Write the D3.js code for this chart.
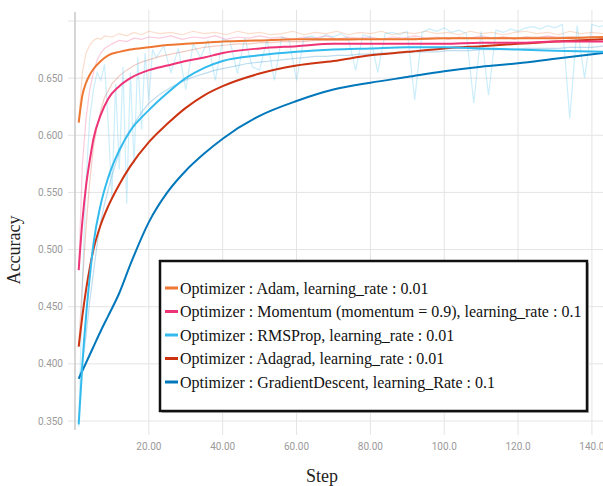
<!DOCTYPE html>
<html>
<head>
<meta charset="utf-8">
<script src="https://cdn.jsdelivr.net/npm/d3@7"></script>
<style>
  body { margin: 0; background: #fff; }
  svg { display: block; }
  .serif { font-family: "Liberation Serif", "Times New Roman", serif; }
</style>
</head>
<body>
<svg id="chart" width="603" height="486"></svg>
<script>
// ---- data ----
const runs = ["Adam", "Momentum", "RMSProp", "Adagrad", "GradientDescent"];
const legendLabels = [
  "Optimizer : Adam, learning_rate : 0.01",
  "Optimizer : Momentum (momentum = 0.9), learning_rate : 0.1",
  "Optimizer : RMSProp, learning_rate : 0.01",
  "Optimizer : Adagrad, learning_rate : 0.01",
  "Optimizer : GradientDescent, learning_Rate : 0.1"
];
const runColors = ["#ee7733", "#ee3377", "#33bbee", "#cc3311", "#0077bb"];

const xTicks = [20, 40, 60, 80, 100, 120, 140];
const xTickLabels = ["20.00", "40.00", "60.00", "80.00", "100.0", "120.0", "140.0"];
const yTicks = [0.35, 0.40, 0.45, 0.50, 0.55, 0.60, 0.65, 0.70];

// smoothed curves
const smoothSteps = [1, 2, 3, 4, 5, 7, 9, 12, 15, 20, 25, 30, 35, 40, 50, 60, 70, 80, 90, 100, 110, 120, 130, 143];
const adamSmooth = [0.611, 0.635, 0.646, 0.653, 0.658, 0.665, 0.670, 0.673, 0.675, 0.677, 0.679, 0.680, 0.681, 0.682, 0.683, 0.684, 0.684, 0.684, 0.684, 0.685, 0.685, 0.685, 0.685, 0.686];
const momentumSmooth = [0.482, 0.525, 0.556, 0.578, 0.597, 0.618, 0.632, 0.643, 0.650, 0.657, 0.661, 0.665, 0.668, 0.672, 0.676, 0.678, 0.680, 0.680, 0.680, 0.680, 0.681, 0.681, 0.682, 0.682];
const rmspropSmooth = [0.347, 0.400, 0.442, 0.476, 0.505, 0.540, 0.563, 0.587, 0.604, 0.622, 0.637, 0.650, 0.659, 0.665, 0.670, 0.673, 0.675, 0.676, 0.677, 0.677, 0.676, 0.675, 0.674, 0.673];
const adagradSmooth = [0.415, 0.442, 0.465, 0.484, 0.500, 0.522, 0.538, 0.557, 0.573, 0.594, 0.610, 0.624, 0.635, 0.643, 0.654, 0.661, 0.665, 0.670, 0.673, 0.676, 0.678, 0.680, 0.682, 0.684];
const gdSmooth = [0.387, 0.394, 0.401, 0.408, 0.415, 0.429, 0.442, 0.462, 0.487, 0.524, 0.550, 0.569, 0.584, 0.597, 0.617, 0.630, 0.640, 0.646, 0.651, 0.656, 0.660, 0.663, 0.667, 0.672];

// raw (faint) curves
const rawSteps = [1, 2, 3, 4, 5, 6, 7, 8, 10, 12, 14, 16, 18, 20, 23, 26, 29, 32, 35, 38, 41, 44, 47, 50, 53, 56, 59, 62, 65, 68, 71, 74, 77, 80, 83, 86, 89, 92, 95, 98, 101, 104, 107, 110, 113, 116, 119, 122, 125, 128, 131, 134, 137, 140, 143];
const adamRaw = [0.611, 0.655, 0.672, 0.679, 0.683, 0.685, 0.684, 0.687, 0.686, 0.689, 0.687, 0.690, 0.688, 0.691, 0.689, 0.690, 0.688, 0.691, 0.689, 0.690, 0.688, 0.691, 0.689, 0.690, 0.688, 0.689, 0.691, 0.688, 0.690, 0.689, 0.691, 0.688, 0.690, 0.689, 0.691, 0.688, 0.690, 0.689, 0.691, 0.689, 0.690, 0.688, 0.691, 0.689, 0.690, 0.688, 0.690, 0.691, 0.689, 0.690, 0.688, 0.691, 0.689, 0.690, 0.689];
const momentumRaw = [0.482, 0.575, 0.615, 0.640, 0.655, 0.666, 0.672, 0.676, 0.680, 0.683, 0.682, 0.685, 0.684, 0.686, 0.685, 0.687, 0.684, 0.686, 0.685, 0.687, 0.684, 0.686, 0.685, 0.687, 0.685, 0.686, 0.684, 0.686, 0.685, 0.687, 0.684, 0.686, 0.685, 0.686, 0.684, 0.686, 0.685, 0.687, 0.685, 0.686, 0.684, 0.686, 0.685, 0.687, 0.685, 0.686, 0.684, 0.686, 0.685, 0.687, 0.685, 0.686, 0.685, 0.686, 0.685];
const adagradRaw = [0.415, 0.470, 0.520, 0.560, 0.590, 0.608, 0.622, 0.633, 0.645, 0.652, 0.657, 0.661, 0.664, 0.666, 0.669, 0.671, 0.673, 0.675, 0.677, 0.678, 0.679, 0.680, 0.680, 0.681, 0.681, 0.682, 0.682, 0.682, 0.683, 0.683, 0.683, 0.683, 0.684, 0.684, 0.684, 0.684, 0.684, 0.685, 0.684, 0.685, 0.685, 0.685, 0.685, 0.685, 0.685, 0.686, 0.685, 0.686, 0.686, 0.686, 0.686, 0.686, 0.686, 0.686, 0.686];
const gdRaw = [0.387, 0.400, 0.425, 0.455, 0.480, 0.505, 0.525, 0.540, 0.565, 0.585, 0.600, 0.610, 0.620, 0.628, 0.636, 0.642, 0.647, 0.651, 0.654, 0.657, 0.659, 0.661, 0.663, 0.664, 0.665, 0.666, 0.667, 0.668, 0.669, 0.669, 0.670, 0.670, 0.671, 0.671, 0.672, 0.672, 0.672, 0.673, 0.673, 0.673, 0.674, 0.674, 0.674, 0.675, 0.675, 0.675, 0.675, 0.676, 0.676, 0.676, 0.676, 0.677, 0.677, 0.677, 0.678];

const rmspropRawSteps = [1, 2, 3, 4, 5, 6, 7, 8, 9, 10, 11, 12, 13, 14, 15, 16, 17, 18, 19, 20, 21, 22,
  24, 26, 28, 30, 32, 34, 36, 38, 40, 42, 44, 46, 48, 50, 52, 54, 56, 58, 60, 62, 64, 66, 68, 70,
  72, 74, 76, 78, 80, 82, 84, 86, 88, 90, 92, 94, 96, 98, 100, 102, 104, 106, 108, 110, 112, 114,
  116, 118, 120, 122, 124, 126, 128, 130, 132, 134, 136, 138, 140, 142, 143];
const rmspropRaw = [0.345, 0.470, 0.560, 0.615, 0.640, 0.655, 0.648, 0.662, 0.610, 0.545, 0.645, 0.570, 0.660, 0.540, 0.655, 0.575, 0.668, 0.605, 0.672, 0.630, 0.675, 0.668,
  0.678, 0.655, 0.676, 0.640, 0.680, 0.668, 0.683, 0.648, 0.684, 0.682, 0.654, 0.685, 0.660, 0.657, 0.684, 0.648, 0.686, 0.683, 0.648, 0.685, 0.687, 0.684, 0.688, 0.686,
  0.689, 0.685, 0.657, 0.688, 0.686, 0.655, 0.689, 0.690, 0.688, 0.691, 0.631, 0.690, 0.693, 0.691, 0.694, 0.690, 0.692, 0.689, 0.628, 0.691, 0.635, 0.692,
  0.690, 0.693, 0.691, 0.694, 0.695, 0.693, 0.696, 0.694, 0.697, 0.615, 0.696, 0.650, 0.697, 0.695, 0.696];

const smoothSeries = [adamSmooth, momentumSmooth, rmspropSmooth, adagradSmooth, gdSmooth];
const rawSeries = [
  { steps: rawSteps, values: adamRaw, run: 0 },
  { steps: rawSteps, values: momentumRaw, run: 1 },
  { steps: rawSteps, values: adagradRaw, run: 3 },
  { steps: rawSteps, values: gdRaw, run: 4 },
  { steps: rmspropRawSteps, values: rmspropRaw, run: 2 }
];

// ---- chart ----
const svg = d3.select("#chart");
const plot = { left: 75, right: 603, top: 10, bottom: 430 };

const x = d3.scaleLinear().domain([0, 143]).range([plot.left, plot.right]);
const y = d3.scaleLinear().domain([0.35, 0.70]).range([421, 21]);

svg.append("rect").attr("width", 603).attr("height", 486).attr("fill", "#fff");

// grid
const grid = svg.append("g");
grid.selectAll(".hgrid").data(yTicks).enter().append("line")
  .attr("x1", 68).attr("x2", plot.right)
  .attr("y1", d => y(d)).attr("y2", d => y(d))
  .attr("stroke", "#e4e4e4").attr("stroke-width", 1);
grid.selectAll(".vgrid").data(xTicks).enter().append("line")
  .attr("x1", d => x(d)).attr("x2", d => x(d))
  .attr("y1", plot.top).attr("y2", 435)
  .attr("stroke", "#e4e4e4").attr("stroke-width", 1);
grid.append("line")
  .attr("x1", plot.left).attr("x2", plot.left)
  .attr("y1", plot.top + 2).attr("y2", plot.bottom)
  .attr("stroke", "#c8c8c8").attr("stroke-width", 1.5);

// tick labels
svg.append("g").selectAll("text").data(yTicks.filter(d => d < 0.69)).enter().append("text")
  .attr("x", 63).attr("y", d => y(d) + 3.5)
  .attr("text-anchor", "end")
  .attr("font-family", "Roboto, sans-serif").attr("font-size", 10)
  .attr("fill", "#9a9a9a")
  .text(d => d3.format(".3f")(d));
svg.append("g").selectAll("text").data(xTicks).enter().append("text")
  .attr("x", d => x(d)).attr("y", 450)
  .attr("text-anchor", "middle")
  .attr("font-family", "Roboto, sans-serif").attr("font-size", 10)
  .attr("fill", "#9a9a9a")
  .text((d, i) => xTickLabels[i]);

// axis titles
svg.append("text").attr("class", "serif")
  .attr("transform", "translate(20,250) rotate(-90)")
  .attr("text-anchor", "middle")
  .attr("font-size", 18)
  .attr("fill", "#222")
  .text("Accuracy");
svg.append("text").attr("class", "serif")
  .attr("x", 322).attr("y", 482)
  .attr("text-anchor", "middle")
  .attr("font-size", 18)
  .attr("fill", "#222")
  .text("Step");

// lines
svg.append("defs").append("clipPath").attr("id", "clip")
  .append("rect")
  .attr("x", plot.left).attr("y", plot.top)
  .attr("width", plot.right - plot.left).attr("height", plot.bottom - plot.top);

const lines = svg.append("g").attr("clip-path", "url(#clip)");

const rawLine = d3.line().x(d => x(d[0])).y(d => y(d[1]));
lines.selectAll(".raw").data(rawSeries).enter().append("path")
  .attr("fill", "none")
  .attr("stroke", d => runColors[d.run])
  .attr("stroke-opacity", 0.25)
  .attr("stroke-width", 1.2)
  .attr("d", d => rawLine(d.steps.map((s, i) => [s, d.values[i]])));

const smoothLine = d3.line().curve(d3.curveMonotoneX).x(d => x(d[0])).y(d => y(d[1]));
// draw GD first so brighter curves sit on top near the end
const order = [4, 3, 2, 1, 0];
lines.selectAll(".smooth").data(order).enter().append("path")
  .attr("fill", "none")
  .attr("stroke", i => runColors[i])
  .attr("stroke-width", 2)
  .attr("d", i => smoothLine(smoothSteps.map((s, j) => [s, smoothSeries[i][j]])));

// legend
const lg = svg.append("g");
lg.append("rect")
  .attr("x", 162).attr("y", 263).attr("width", 427).attr("height", 150)
  .attr("fill", "#bdbdbd");
lg.append("rect")
  .attr("x", 160).attr("y", 261).attr("width", 427).attr("height", 150)
  .attr("fill", "#fff").attr("stroke", "#111").attr("stroke-width", 2.5);

const rows = lg.selectAll(".row").data(legendLabels).enter().append("g")
  .attr("transform", (d, i) => `translate(0,${288 + i * 23.5})`);
rows.append("line")
  .attr("x1", 165).attr("x2", 178).attr("y1", 0).attr("y2", 0)
  .attr("stroke", (d, i) => runColors[i]).attr("stroke-width", 3);
rows.append("text").attr("class", "serif")
  .attr("x", 180).attr("y", 5.5)
  .attr("font-size", 16)
  .attr("fill", "#111")
  .text(d => d);
</script>
</body>
</html>
